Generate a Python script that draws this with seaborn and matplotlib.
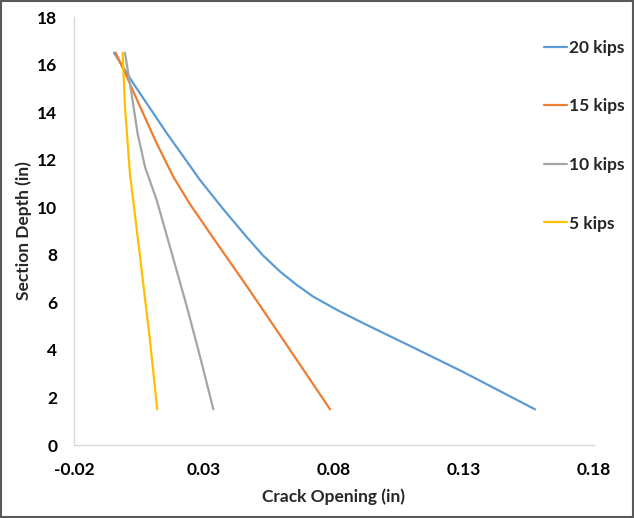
import matplotlib
matplotlib.use("Agg")
import matplotlib.pyplot as plt
import pandas as pd
import seaborn as sns
from matplotlib.patches import Rectangle

# crack opening (in) vs section depth (in)
open_20 = [-0.0046, 0.0028, 0.0157, 0.0285, 0.0374, 0.0464, 0.0527, 0.0592,
           0.0657, 0.0720, 0.0815, 0.0913, 0.1105, 0.1297, 0.1573]
depth_20 = [16.5, 15.21, 13.11, 11.14, 9.92, 8.75, 7.97, 7.30,
            6.73, 6.24, 5.66, 5.12, 4.10, 3.07, 1.5]

open_15 = [-0.0040, 0.0003, 0.0054, 0.0118, 0.0182, 0.0246, 0.0336, 0.0464,
           0.0592, 0.0785]
depth_15 = [16.5, 15.49, 14.23, 12.69, 11.28, 10.13, 8.70, 6.69, 4.63, 1.5]

open_10 = [-0.0004, 0.0021, 0.0045, 0.0073, 0.0118, 0.0169, 0.0234, 0.0285,
           0.0336]
depth_10 = [16.5, 14.79, 13.08, 11.70, 10.30, 8.34, 5.82, 3.71, 1.5]

open_5 = [-0.0013, -0.0004, 0.0015, 0.0054, 0.0092, 0.0120]
depth_5 = [16.5, 14.23, 11.43, 7.92, 4.42, 1.5]

labels = ["20 kips", "15 kips", "10 kips", "5 kips"]
colors = ["#5B9BD5", "#ED7D31", "#A5A5A5", "#FFC000"]

x_ticks = [-0.02, 0.03, 0.08, 0.13, 0.18]
y_ticks = list(range(0, 19, 2))

frames = []
for lab, xs, ys in zip(labels,
                       [open_20, open_15, open_10, open_5],
                       [depth_20, depth_15, depth_10, depth_5]):
    frames.append(pd.DataFrame({"opening": xs, "depth": ys, "load": lab}))
df = pd.concat(frames, ignore_index=True)

sns.set_style("white")
plt.rcParams["font.family"] = ["Lato", "DejaVu Sans"]

fig = plt.figure(figsize=(6.34, 5.18), dpi=100)
ax = fig.add_axes([74 / 634, 73 / 518, 520 / 634, 428 / 518])

sns.lineplot(data=df, x="opening", y="depth", hue="load", hue_order=labels,
             palette=colors, sort=False, estimator=None, lw=1.6, ax=ax)

ax.set_xlim(-0.02, 0.18)
ax.set_ylim(0, 18)
ax.set_xticks(x_ticks)
ax.set_xticklabels([f"{t:.2f}" for t in x_ticks])
ax.set_yticks(y_ticks)
ax.tick_params(length=0, labelsize=12.5, colors="#000000", pad=12)
for t in ax.get_xticklabels() + ax.get_yticklabels():
    t.set_fontweight("bold")

for side in ["top", "right"]:
    ax.spines[side].set_visible(False)
for side in ["left", "bottom"]:
    ax.spines[side].set_color("#D9D9D9")
    ax.spines[side].set_linewidth(1)

ax.set_xlabel("Crack Opening (in)", fontsize=12.5, fontweight="bold", labelpad=8)
ax.set_ylabel("Section Depth (in)", fontsize=12.5, fontweight="bold", labelpad=4)

leg = ax.legend(loc="upper left", bbox_to_anchor=(537 / 634, 485 / 518),
                bbox_transform=fig.transFigure, frameon=False,
                fontsize=12.5, handlelength=1.3, handletextpad=0.15,
                labelspacing=2.45, borderaxespad=0)
for t in leg.get_texts():
    t.set_fontweight("bold")

fig.patches.append(Rectangle((0.001, 0.001), 0.998, 0.997, transform=fig.transFigure,
                             fill=False, edgecolor="#595959", lw=1.5))

fig.savefig("out.png", dpi=100)
plt.close(fig)
